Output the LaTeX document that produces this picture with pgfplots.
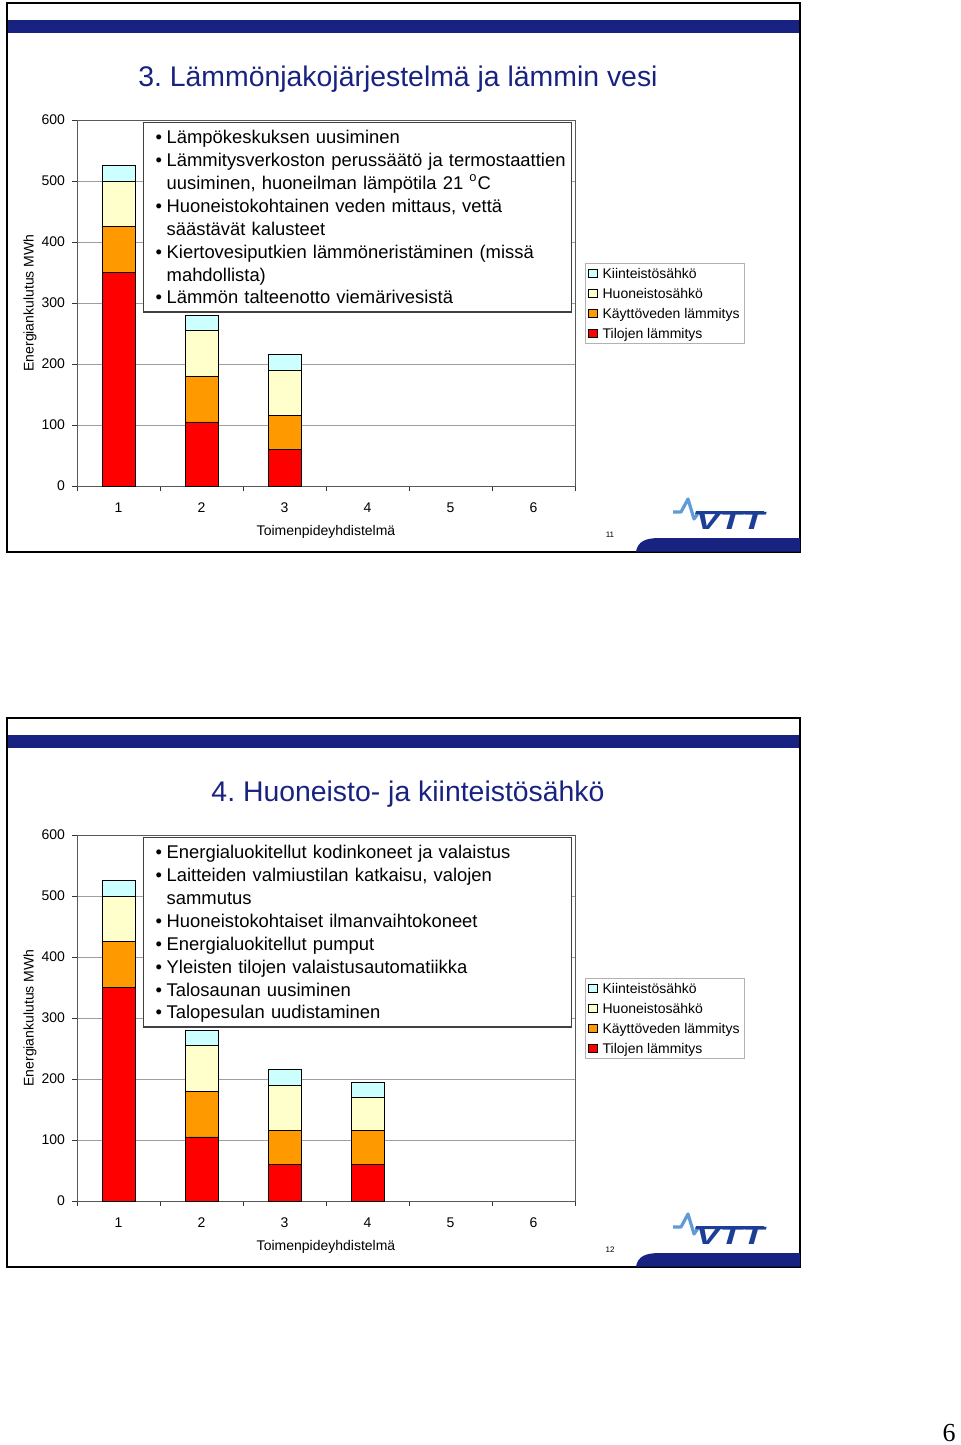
\documentclass[border=0pt]{standalone}
\usepackage{fontspec}
\setmainfont{Liberation Sans}
\newfontfamily\pagefont{Liberation Serif}
\usepackage{pgfplots}
\pgfplotsset{compat=1.18}
\usepackage{pgfplotstable}
\frenchspacing

\definecolor{navy}{RGB}{24,34,128}
\definecolor{vttblue}{RGB}{28,62,150}
\definecolor{vttlight}{RGB}{95,155,215}
\definecolor{tilat}{RGB}{255,0,0}
\definecolor{vesi}{RGB}{255,153,0}
\definecolor{huon}{RGB}{255,255,204}
\definecolor{kiint}{RGB}{204,255,255}

% energiankulutus MWh, kerrokset alhaalta ylos
\pgfplotstableread{
x tilat vesi huon kiint
1 350 75 75 25
2 105 75 75 25
3 60  55 75 25
}\dataA
\pgfplotstableread{
x tilat vesi huon kiint
1 350 75 75 25
2 105 75 75 25
3 60  55 75 25
4 60  55 55 25
}\dataB

\pgfplotsset{
  slidechart/.style={
    scale only axis, width=249pt, height=183pt,
    anchor=south west,
    xmin=0.5, xmax=6.5, ymin=0, ymax=600,
    ytick={0,100,...,600},
    xtick={0.5,1.5,...,6.5}, xticklabels={},
    extra x ticks={1,2,3,4,5,6},
    extra x tick labels={1,2,3,4,5,6},
    extra x tick style={major tick length=0pt},
    ymajorgrids, grid style={gray!75},
    tick align=outside, major tick length=2.5pt,
    xtick pos=bottom, ytick pos=left,
    axis line style={gray!70!black},
    tick style={gray!40!black, line width=0.5pt},
    ticklabel style={font=\fontsize{7}{8}\selectfont},
    xticklabel style={yshift=-5pt},
    /pgf/number format/assume math mode=true,
    ybar stacked, bar width=16.5pt,
    every axis plot/.append style={draw=black, line width=0.4pt},
    ylabel={Energiankulutus MWh},
    ylabel style={font=\fontsize{7}{8}\selectfont, at={(axis description cs:-0.0944,0.5)}, anchor=center},
    xlabel={Toimenpideyhdistelmä},
    xlabel style={font=\fontsize{7}{8}\selectfont, at={(axis description cs:0.5,-0.1256)}, anchor=center},
    legend style={at={(1.0201,0.609)}, anchor=north west, draw=gray!60,
      font=\fontsize{7}{8}\selectfont, inner xsep=1.5pt, inner ysep=0pt, row sep=0pt,
      nodes={inner sep=1pt, text height=6.4pt, text depth=1.6pt},
      /tikz/every odd column/.append style={column sep=1.5pt}},
    legend cell align=left,
    reverse legend,
    legend image code/.code={\draw[#1,draw=black,line width=0.4pt] (0pt,-2.1pt) rectangle (4.2pt,2.1pt);},
  },
}

\newcommand\bul[1]{\par\hangindent=11.5pt\hangafter=1\noindent\hspace*{6pt}\makebox[5.5pt][l]{\textbullet}#1\rule[-2pt]{0pt}{2pt}}

\newcommand\slideframe[3]{%
  \begin{scope}[x=0.5pt,y=-0.5pt,shift={(0,#1)}]
    \fill[navy] (7,20) rectangle (800,33);
    \draw[line width=1pt] (7,3) rectangle (800,552);
    \node[navy, font=\fontsize{14.2}{16}\selectfont] at (#2) {#3};
    \fill[navy] (636,551.5) .. controls (638,541) and (646,538) .. (660,538) -- (800,538) -- (800,551.5) -- cycle;
    \draw[vttlight, line width=1.6pt, line join=round] (673,512) -- (681,512) -- (688,499) -- (694,519) -- (699,512);
    \fill[vttblue] (696,511) -- (764,511) -- (763,514) -- (695,514) -- cycle;
    \node[vttblue, font=\bfseries\itshape\fontsize{12.5}{12.5}\selectfont, xscale=1.45, anchor=base] at (730,529) {VTT};
  \end{scope}}

\begin{document}
\begin{tikzpicture}
\path[use as bounding box] (0,0) rectangle (480pt,-722.5pt);

% ---- kalvo 11 ----
\slideframe{0}{398,79}{3. Lämmönjakojärjestelmä ja lämmin vesi}
\node[font=\fontsize{4}{4}\selectfont] at (305pt,-267.5pt) {11};
\begin{axis}[slidechart, at={(38.5pt,-243pt)}]
  \addplot[fill=tilat] table[x=x, y=tilat] {\dataA};
  \addplot[fill=vesi]  table[x=x, y=vesi]  {\dataA};
  \addplot[fill=huon]  table[x=x, y=huon]  {\dataA};
  \addplot[fill=kiint] table[x=x, y=kiint] {\dataA};
  \legend{Tilojen lämmitys, Käyttöveden lämmitys, Huoneistosähkö, Kiinteistösähkö}
\end{axis}
\node[draw=black!75, line width=0.7pt, fill=white, anchor=north west, inner xsep=0pt, inner ysep=2pt,
      text width=214pt, font=\fontsize{9.2}{11.45}\selectfont] at (71.5pt,-61pt) {%
  \vspace*{-3pt}%
  \bul{Lämpökeskuksen uusiminen}
  \bul{Lämmitysverkoston perussäätö ja termostaattien\newline uusiminen, huoneilman lämpötila 21 \textsuperscript{o}C}
  \bul{Huoneistokohtainen veden mittaus, vettä\newline säästävät kalusteet}
  \bul{Kiertovesiputkien lämmöneristäminen (missä\newline mahdollista)}
  \bul{Lämmön talteenotto viemärivesistä}\par\vspace{1.5pt}};

% ---- kalvo 12 ----
\slideframe{715}{408,79}{4. Huoneisto- ja kiinteistösähkö}
\node[font=\fontsize{4}{4}\selectfont] at (305pt,-625pt) {12};
\begin{axis}[slidechart, at={(38.5pt,-600.5pt)}]
  \addplot[fill=tilat] table[x=x, y=tilat] {\dataB};
  \addplot[fill=vesi]  table[x=x, y=vesi]  {\dataB};
  \addplot[fill=huon]  table[x=x, y=huon]  {\dataB};
  \addplot[fill=kiint] table[x=x, y=kiint] {\dataB};
  \legend{Tilojen lämmitys, Käyttöveden lämmitys, Huoneistosähkö, Kiinteistösähkö}
\end{axis}
\node[draw=black!75, line width=0.7pt, fill=white, anchor=north west, inner xsep=0pt, inner ysep=2pt,
      text width=214pt, font=\fontsize{9.2}{11.45}\selectfont] at (71.5pt,-418.5pt) {%
  \vspace*{-3pt}%
  \bul{Energialuokitellut kodinkoneet ja valaistus}
  \bul{Laitteiden valmiustilan katkaisu, valojen\newline sammutus}
  \bul{Huoneistokohtaiset ilmanvaihtokoneet}
  \bul{Energialuokitellut pumput}
  \bul{Yleisten tilojen valaistusautomatiikka}
  \bul{Talosaunan uusiminen}
  \bul{Talopesulan uudistaminen}\par\vspace{1.5pt}};

\node[font=\pagefont\fontsize{13}{13}\selectfont, inner sep=0pt] at (474.5pt,-716.5pt) {6};
\end{tikzpicture}
\end{document}
